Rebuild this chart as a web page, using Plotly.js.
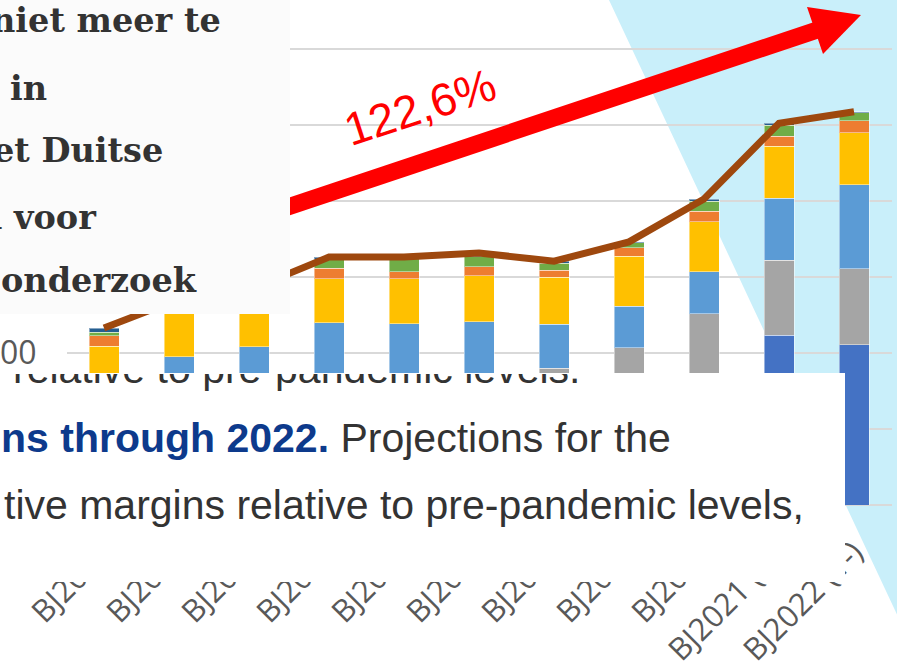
<!DOCTYPE html>
<html><head><meta charset="utf-8">
<script src="https://cdn.plot.ly/plotly-3.0.1.min.js"></script>
<style>html,body{margin:0;padding:0;background:#fff;overflow:hidden}#chart{width:897px;height:665px;}</style>
</head><body><div id="chart"></div>
<script>
// ---- data ----
const categories = ["BJ2012","BJ2013","BJ2014","BJ2015","BJ2016","BJ2017","BJ2018","BJ2019","BJ2020","BJ2021 (1-)","BJ2022 (1-)"];
const seriesDarkBlue  = [559, 625, 658, 658, 658, 658, 625, 658, 724, 1118, 1053];
const seriesGray      = [33, 53, 66, 79, 86, 99, 276, 375, 533, 493, 500];
const seriesLightBlue = [197, 296, 316, 461, 447, 447, 289, 276, 276, 408, 553];
const seriesYellow    = [257, 289, 276, 289, 296, 303, 309, 329, 329, 342, 342];
const seriesOrange    = [66, 53, 59, 72, 46, 59, 46, 53, 72, 66, 79];
const seriesGreen     = [26, 26, 39, 59, 92, 66, 46, 33, 66, 72, 53];
const seriesTop       = [26, 13, 13, 13, 7, 26, 13, 7, 13, 13, 7];
const totalLine       = [1164, 1355, 1428, 1631, 1632, 1658, 1604, 1731, 2013, 2512, 2587];
const yTickValues = [0, 500, 1000, 1500, 2000, 2500, 3000];
const yTickLabels = ["0", "500", "1000", "1500", "2000", "2500", "3000"];
const growthLabel = "122,6%";
const dutchLines = ["niet meer te", "n in", "et Duitse", "n voor", "onderzoek"];
const englishLine1 = "relative to pre-pandemic levels.";
const englishLine2Bold = "ns through 2022.";
const englishLine2 = " Projections for the";
const englishLine3 = "tive margins relative to pre-pandemic levels,";

// ---- geometry helpers (pixel -> paper) ----
const W = 897, H = 665;
const X = p => p / W;
const Y = p => 1 - p / H;

const stack = [
  [seriesDarkBlue, "#4472C4"],
  [seriesGray, "#A5A5A5"],
  [seriesLightBlue, "#5B9BD5"],
  [seriesYellow, "#FFC000"],
  [seriesOrange, "#ED7D31"],
  [seriesGreen, "#70AD47"],
  [seriesTop, "#255E91"]
];
const traces = stack.map(([vals, col]) => ({
  type: "bar", x: categories, y: vals,
  marker: {color: col, line: {color: "rgba(255,255,255,0.45)", width: 1}},
  hoverinfo: "skip", showlegend: false
}));
traces.push({
  type: "scatter", mode: "lines", x: categories, y: totalLine,
  line: {color: "#9E480E", width: 7}, hoverinfo: "skip", showlegend: false
});

const shapes = [
  {type: "path", xref: "paper", yref: "paper", layer: "below",
   path: `M ${X(609)},${Y(0)} L ${X(900)},${Y(0)} L ${X(900)},${Y(621)} Z`,
   fillcolor: "#C9EFFA", line: {width: 0}},
  {type: "rect", xref: "paper", yref: "paper", layer: "above",
   x0: X(-5), x1: X(290), y0: Y(314), y1: Y(-5),
   fillcolor: "#FBFBFB", line: {width: 0}},
  {type: "rect", xref: "paper", yref: "paper", layer: "above",
   x0: X(-5), x1: X(845), y0: Y(582), y1: Y(373),
   fillcolor: "#FFFFFF", line: {width: 0}},
  {type: "path", xref: "paper", yref: "paper", layer: "above",
   path: `M ${X(290)},${Y(197.2)} L ${X(818)},${Y(20.8)} L ${X(818)},${Y(38.8)} L ${X(290)},${Y(215.2)} Z`,
   fillcolor: "#FF0000", line: {width: 0}},
  {type: "path", xref: "paper", yref: "paper", layer: "above",
   path: `M ${X(807)},${Y(7)} L ${X(861)},${Y(15)} L ${X(823)},${Y(54)} Z`,
   fillcolor: "#FF0000", line: {width: 0}}
];

const dutchRight = [223, 49, 165, 98, 199];
const dutchY = [21, 88, 151, 217, 280];
const annotations = dutchLines.map((t, i) => ({
  xref: "paper", yref: "paper", x: X(dutchRight[i]), y: Y(dutchY[i]),
  xanchor: "right", yanchor: "middle", showarrow: false, text: t,
  font: {family: "DejaVu Serif", size: 33.5, color: "#333333", weight: "bold"}
}));
annotations.push(
  {xref: "paper", yref: "paper", x: X(581), y: Y(373), xanchor: "right", yanchor: "top",
   height: 18, valign: "bottom", borderpad: 0, showarrow: false, text: englishLine1,
   font: {family: "Liberation Sans", size: 41, color: "#333333"}},
  {xref: "paper", yref: "paper", x: X(-1), y: Y(438), xanchor: "left", yanchor: "middle",
   showarrow: false,
   text: `<span style="color:#0D3A8C"><b>${englishLine2Bold}</b></span>${englishLine2}`,
   font: {family: "Liberation Sans", size: 41, color: "#333333"}},
  {xref: "paper", yref: "paper", x: X(2), y: Y(505), xanchor: "left", yanchor: "middle",
   showarrow: false, text: englishLine3,
   font: {family: "Liberation Sans", size: 41, color: "#333333"}},
  {xref: "paper", yref: "paper", x: X(420), y: Y(107), xanchor: "center", yanchor: "middle",
   showarrow: false, text: growthLabel, textangle: -18,
   font: {family: "Liberation Sans", size: 46, color: "#FF0000"}}
);

const layout = {
  width: W, height: H,
  margin: {l: 0, r: 0, t: 0, b: 0},
  paper_bgcolor: "#FFFFFF", plot_bgcolor: "rgba(0,0,0,0)",
  barmode: "stack", bargap: 0.6,
  showlegend: false,
  xaxis: {domain: [X(66.5), X(891.5)], type: "category", tickangle: -45,
          ticks: "", showgrid: false, showline: false, zeroline: false,
          ticklabelstandoff: 22,
          tickfont: {family: "Open Sans", size: 31, color: "#595959"}},
  yaxis: {domain: [Y(505), 1], range: [0, 505 * 500 / 76],
          tickvals: yTickValues, ticktext: yTickLabels,
          ticks: "", showline: false, gridcolor: "#D9D9D9", gridwidth: 2,
          zeroline: true, zerolinecolor: "#D9D9D9", zerolinewidth: 2,
          ticklabelstandoff: 29,
          tickfont: {family: "Open Sans", size: 32, color: "#595959"}},
  shapes: shapes,
  annotations: annotations
};

Plotly.newPlot("chart", traces, layout, {displayModeBar: false, staticPlot: true});
</script>
</body></html>
